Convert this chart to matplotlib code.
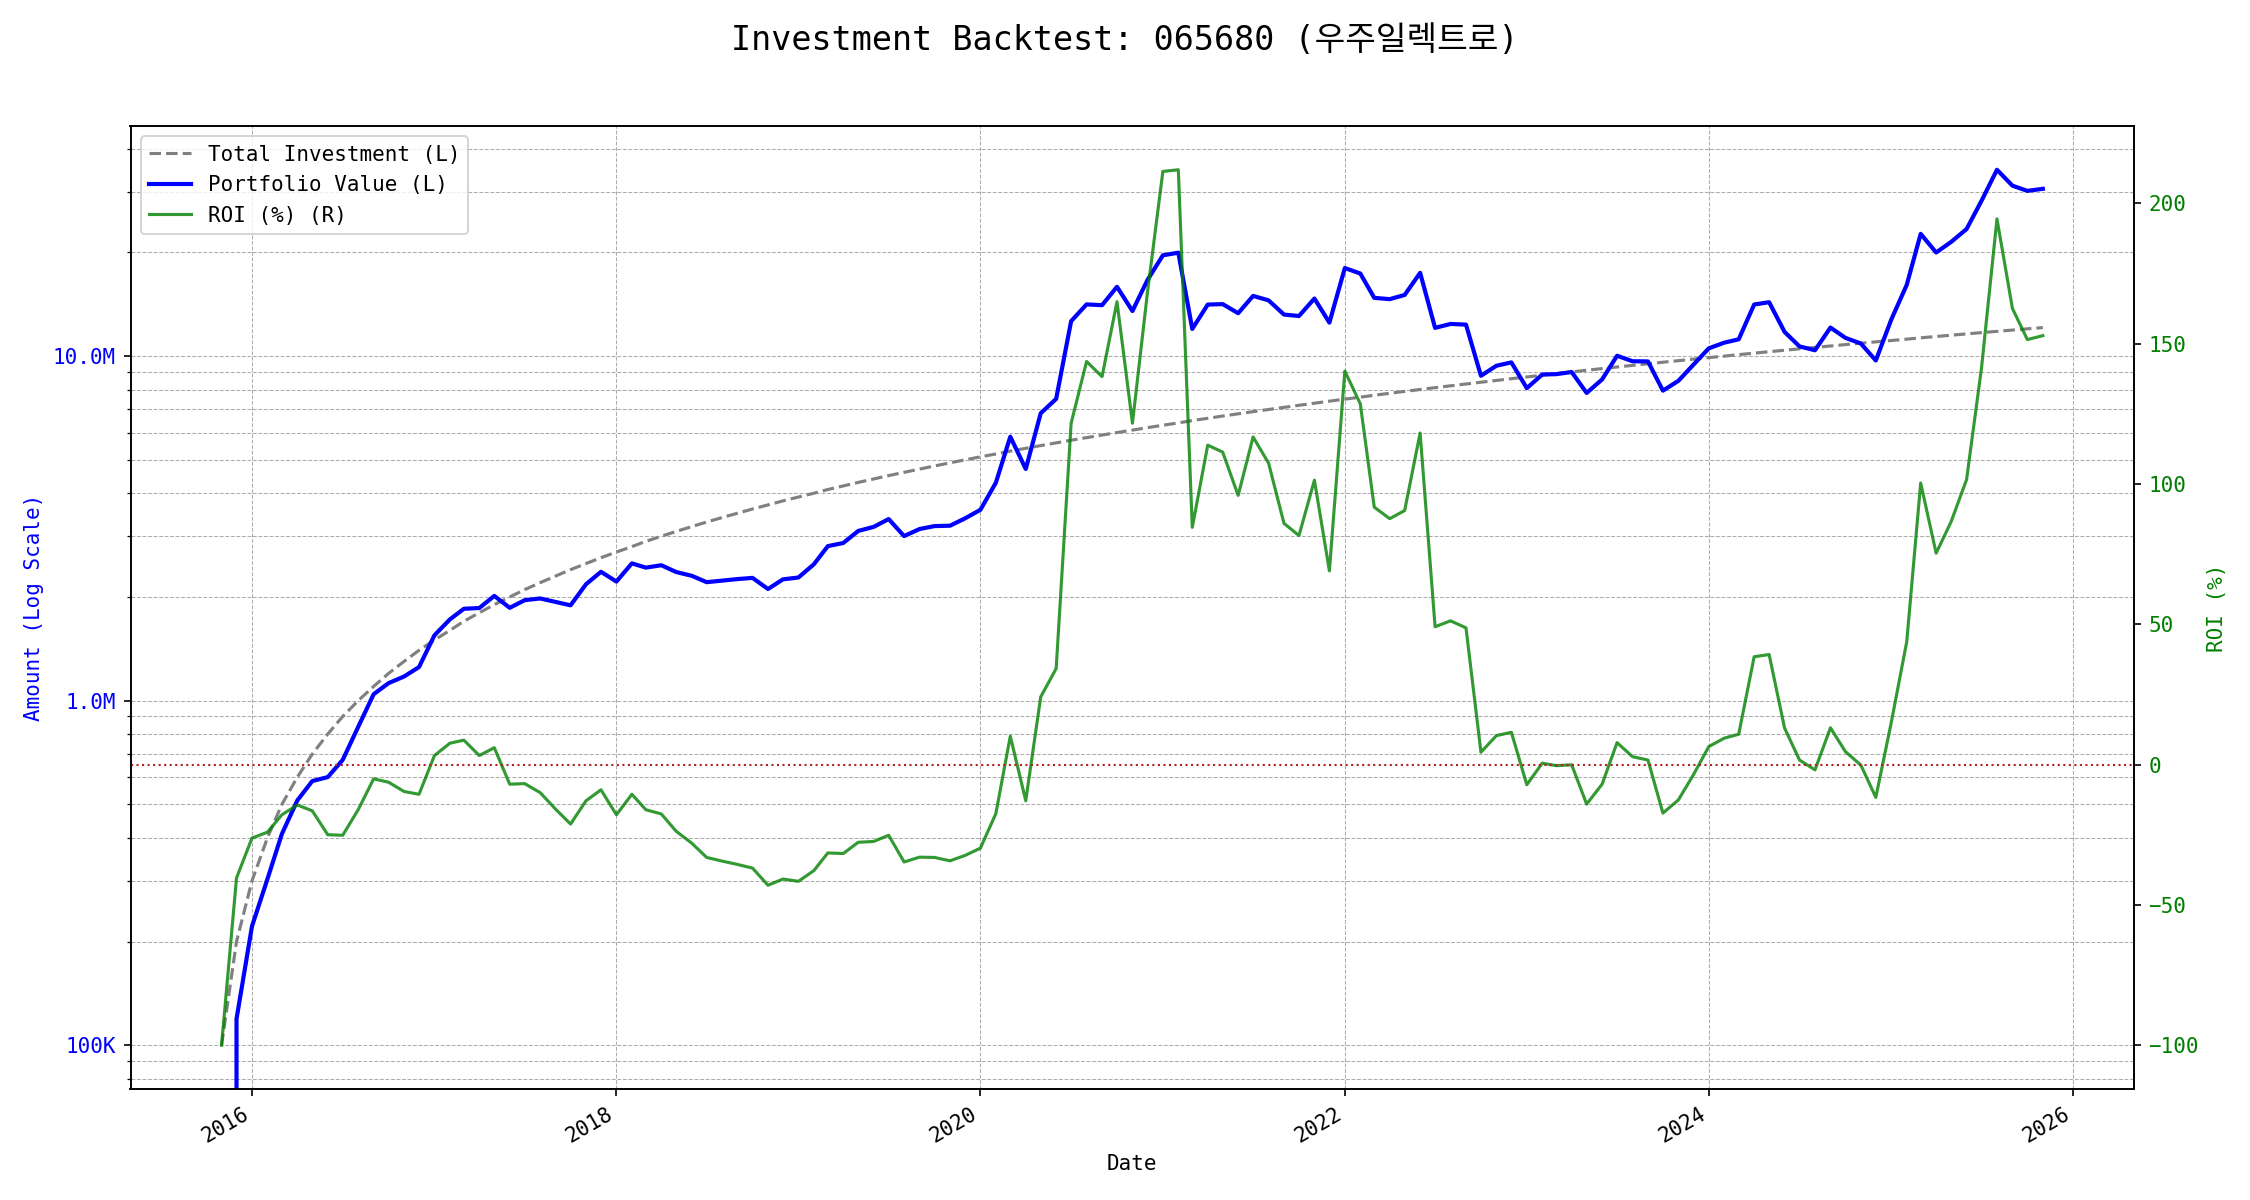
import numpy as np
import pandas as pd
import matplotlib
matplotlib.use("Agg")
import matplotlib.pyplot as plt
import matplotlib.ticker as mticker

plt.rcParams['font.family'] = ['DejaVu Sans Mono', 'Noto Sans CJK KR']

# monthly backtest, Nov 2015 .. Nov 2025
dates = pd.date_range('2015-11-01', periods=121, freq='MS')
monthly_deposit = 100_000

# ROI (%), one value per month
roi = [
    -100.0, -40.4, -26.2, -24.1, -17.9, -14.4, -16.5, -25.0, -25.2, -16.1,
    -5.1, -6.3, -9.6, -10.6, 3.2, 7.6, 8.7, 3.2, 6.0, -7.0,
    -6.8, -10.0, -15.9, -21.2, -12.9, -9.0, -17.9, -10.6, -16.1, -17.6,
    -23.8, -28.0, -33.1, -34.4, -35.6, -36.9, -43.0, -40.8, -41.6, -37.8,
    -31.5, -31.7, -27.7, -27.4, -25.2, -34.7, -33.0, -33.1, -34.3, -32.4,
    -29.8, -17.5, 10.1, -12.9, 24.1, 34.2, 121.6, 143.6, 138.2, 164.9,
    121.6, 168.0, 211.3, 211.9, 84.5, 113.8, 111.3, 95.9, 116.7, 107.4,
    85.9, 81.6, 101.3, 69.0, 140.2, 128.5, 91.7, 87.6, 90.5, 118.1,
    49.1, 51.2, 48.7, 4.4, 10.3, 11.5, -7.2, 0.5, -0.4, -0.1,
    -14.1, -7.0, 7.8, 2.8, 1.6, -17.3, -12.6, -3.7, 6.4, 9.4,
    10.8, 38.4, 39.2, 13.0, 1.6, -1.9, 13.1, 4.6, -0.2, -11.7,
    15.0, 43.7, 100.3, 75.3, 86.5, 101.5, 141.3, 194.4, 162.5, 151.4,
    152.8,
]

roi = np.array(roi)
invested = np.cumsum(np.full(len(dates), monthly_deposit, dtype=float))
portfolio = invested * (1 + roi / 100)


def amount_fmt(x, pos):
    if x >= 1e6:
        return f'{x / 1e6:.1f}M'
    if x >= 1e3:
        return f'{x / 1e3:.0f}K'
    return f'{x:.0f}'


fig, ax1 = plt.subplots(figsize=(15, 8), dpi=150)
fig.subplots_adjust(left=0.058, right=0.9484, top=0.895, bottom=0.0925)

l1, = ax1.plot(dates, invested, color='gray', linestyle='--', linewidth=1.5,
               label='Total Investment (L)')
l2, = ax1.plot(dates, portfolio, color='blue', linewidth=2,
               label='Portfolio Value (L)')
ax1.set_yscale('log')
ax1.yaxis.set_major_formatter(mticker.FuncFormatter(amount_fmt))
ax1.yaxis.set_minor_formatter(mticker.NullFormatter())
ax1.set_ylabel('Amount (Log Scale)', color='blue')
ax1.tick_params(axis='y', labelcolor='blue')
ax1.set_xlabel('Date')
ax1.grid(True, which='both', linestyle='--', linewidth=0.5, color='#999999', alpha=0.8)

ax2 = ax1.twinx()
l3, = ax2.plot(dates, roi, color='green', linewidth=1.5, alpha=0.8,
               label='ROI (%) (R)')
ax2.axhline(0, color='firebrick', linestyle=':', linewidth=1)
ax2.set_ylabel('ROI (%)', color='green')
ax2.tick_params(axis='y', labelcolor='green')

ax1.legend(handles=[l1, l2, l3], loc='upper left')
fig.suptitle('Investment Backtest: 065680 (우주일렉트로)', fontsize=16)

for lab in ax1.get_xticklabels():
    lab.set_rotation(30)
    lab.set_ha('right')

fig.savefig('out.png', dpi=150)
